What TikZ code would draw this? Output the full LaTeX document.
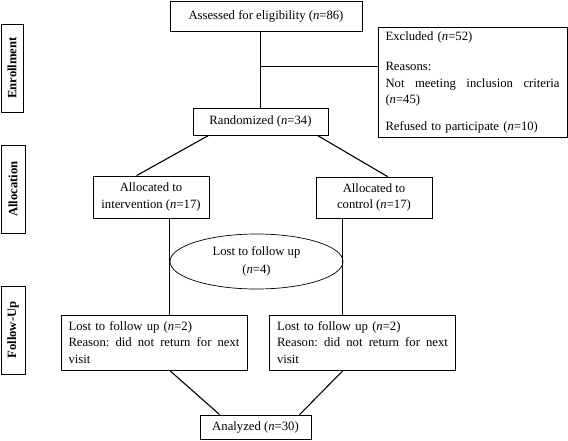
\documentclass[tikz,border=0pt]{standalone}
\usepackage{fontspec}
\setmainfont{Liberation Serif}
\usetikzlibrary{calc,shapes.geometric}
\begin{document}
\begin{tikzpicture}[x=1pt,y=-1pt,
  box/.style={draw, line width=0.8pt, inner sep=0pt, font=\fontsize{12.7}{16.6}\selectfont, align=center},
  lostbox/.style={box, minimum width=186pt, minimum height=55pt, text width=171pt, inner xsep=7.5pt, align=left, font=\fontsize{12.7}{16.8}\selectfont},
  side/.style={draw, line width=0.9pt, rotate=90, inner sep=0pt, minimum width=88pt, font=\fontsize{12.7}{15}\selectfont\bfseries},
  conn/.style={line width=1.1pt}]
\useasboundingbox (0,0) rectangle (568,440);

\node[box, minimum width=192pt, minimum height=30pt] (assess) at (266,16) {Assessed for eligibility (\textit{n}=86)};
\node[box, anchor=north, minimum width=189pt, text width=174pt, inner xsep=7.5pt, inner ysep=4pt, align=left,
      font=\fontsize{12.7}{16.3}\selectfont] (excl) at (472.5,27)
  {Excluded (\textit{n}=52)\\[14.2pt]
   Reasons:\\
   \leavevmode\hbox to 174pt{Not\hfill meeting\hfill inclusion\hfill criteria}\\
   (\textit{n}=45)\\[10.7pt]
   Refused to participate (\textit{n}=10)};
\node[box, minimum width=135pt, minimum height=27pt] (rand) at (260.5,121.5) {Randomized (\textit{n}=34)};
\node[box, minimum width=116pt, minimum height=42pt] (int) at (151,197) {Allocated to\\ intervention (\textit{n}=17)};
\node[box, minimum width=116pt, minimum height=41pt] (ctl) at (374,197.5) {Allocated to\\ control (\textit{n}=17)};
\node[draw, ellipse, line width=0.7pt, minimum width=173pt, minimum height=55pt, inner sep=0pt, align=center,
      font=\fontsize{12.7}{17.3}\selectfont] (lost) at (256.5,261.5) {Lost to follow up\\ (\textit{n}=4)};
\node[lostbox] (l1) at (154,342.5) {Lost to follow up (\textit{n}=2)\\ \leavevmode\hbox to 171pt{Reason:\hfill did\hfill not\hfill return\hfill for\hfill next}\\ visit};
\node[lostbox] (l2) at (362.5,342.5) {Lost to follow up (\textit{n}=2)\\ \leavevmode\hbox to 171pt{Reason:\hfill did\hfill not\hfill return\hfill for\hfill next}\\ visit};
\node[box, minimum width=111pt, minimum height=24pt] (ana) at (255.5,427) {Analyzed (\textit{n}=30)};

\node[side, minimum height=22pt] (enr) at (12,68) {Enrollment};
\node[side, minimum height=24pt] (alloc) at (13,189) {Allocation};
\node[side, minimum height=24pt] (fu) at (13,330) {Follow-Up};

\draw[conn] (assess.south -| rand.north) -- (rand.north);
\coordinate (j) at ($(rand.north)+(0,-41)$);
\draw[conn] (j) -- (j -| excl.west);
\draw[conn] ($(rand.south west)+(16,0)$) -- ($(int.north west)+(44,0)$);
\draw[conn] ($(rand.south east)+(-11,0)$) -- ($(ctl.north west)+(72,0)$);
\coordinate (a1) at ($(int.south west)+(77,0)$);
\coordinate (a2) at ($(ctl.south west)+(27,0)$);
\draw[conn] (a1) -- (a1 |- l1.north);
\draw[conn] (a2) -- (a2 |- l2.north);
\draw[conn] ($(l1.south west)+(109,0)$) -- ($(ana.north west)+(20,0)$);
\draw[conn] ($(l2.south west)+(74,0)$) -- ($(ana.north west)+(100,0)$);
\end{tikzpicture}
\end{document}
